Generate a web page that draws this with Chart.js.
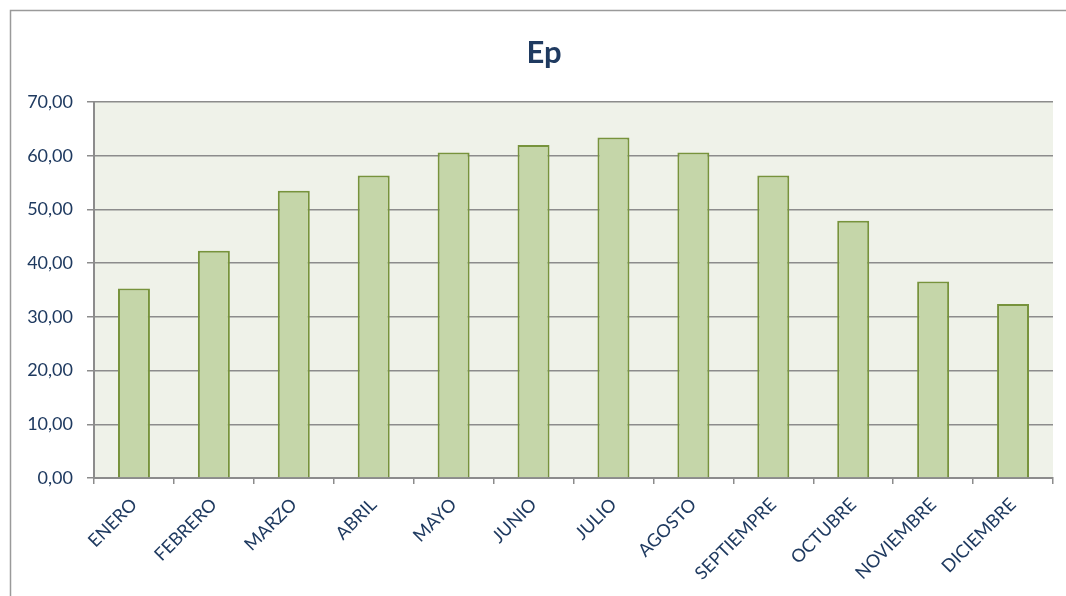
<!DOCTYPE html>
<html>
<head>
<meta charset="utf-8">
<script src="https://cdn.jsdelivr.net/npm/chart.js@4/dist/chart.umd.min.js"></script>
<style>
  html, body { margin: 0; padding: 0; background: #fff; }
  #wrap { width: 1066px; height: 596px; position: relative; }
</style>
</head>
<body>
<div id="wrap"><canvas id="myChart"></canvas></div>
<script>
// datos
const titulo = 'Ep';
const meses = ['ENERO', 'FEBRERO', 'MARZO', 'ABRIL', 'MAYO', 'JUNIO',
  'JULIO', 'AGOSTO', 'SEPTIEMPRE', 'OCTUBRE', 'NOVIEMBRE', 'DICIEMBRE'];
const ep = [35.3, 42.3, 53.5, 56.3, 60.6, 62.0, 63.4, 60.6, 56.3, 47.9, 36.6, 32.4];
const yTicks = [0, 10, 20, 30, 40, 50, 60, 70];

const textColor = '#1F3A60';
const gridColor = '#8C8C8C';

// fondo del area de trazado, marco exterior y titulo
const fondo = {
  id: 'fondo',
  beforeDraw(chart) {
    const ctx = chart.ctx;
    const a = chart.chartArea;
    ctx.save();
    ctx.fillStyle = '#EFF2E9';
    ctx.fillRect(a.left, a.top, a.right - a.left, a.bottom - a.top);
    ctx.strokeStyle = '#9A9A9A';
    ctx.lineWidth = 1.5;
    ctx.strokeRect(10.5, 10.5, 1060, 600);
    ctx.fillStyle = textColor;
    ctx.font = 'bold 31px Lato';
    ctx.textAlign = 'center';
    ctx.textBaseline = 'alphabetic';
    ctx.fillText(titulo, 544, 63);
    ctx.restore();
  }
};

const data = {
  labels: meses,
  datasets: [{
    label: titulo,
    data: ep,
    backgroundColor: '#C5D6A9',
    borderColor: '#77933C',
    borderWidth: 2,
    barPercentage: 0.4,
    categoryPercentage: 1.0
  }]
};

const config = {
  type: 'bar',
  data: data,
  plugins: [fondo],
  options: {
    responsive: true,
    maintainAspectRatio: false,
    animation: false,
    layout: { padding: { left: 0, right: 13, top: 102, bottom: 0 } },
    plugins: {
      legend: { display: false },
      tooltip: { enabled: false },
      title: { display: false }
    },
    scales: {
      x: {
        grid: {
          display: true,
          drawOnChartArea: false,
          drawTicks: true,
          tickLength: 6,
          color: gridColor,
          lineWidth: 1.5,
          offset: true
        },
        border: { display: true, color: gridColor, width: 2 },
        ticks: {
          color: textColor,
          font: { family: 'Lato', size: 18 },
          minRotation: 45,
          maxRotation: 45,
          autoSkip: false,
          padding: 10
        },
        afterFit(scale) { scale.height = 118; }
      },
      y: {
        min: 0,
        max: 70,
        afterBuildTicks(scale) { scale.ticks = yTicks.map(v => ({ value: v })); },
        grid: {
          color: gridColor,
          lineWidth: 1.5,
          tickLength: 7
        },
        border: { display: true, color: gridColor, width: 2 },
        ticks: {
          color: textColor,
          font: { family: 'Lato', size: 18 },
          padding: 14,
          callback: v => v.toFixed(2).replace('.', ',')
        },
        afterFit(scale) { scale.width = 94; }
      }
    }
  }
};

const myChart = new Chart(document.getElementById('myChart'), config);
</script>
</body>
</html>
